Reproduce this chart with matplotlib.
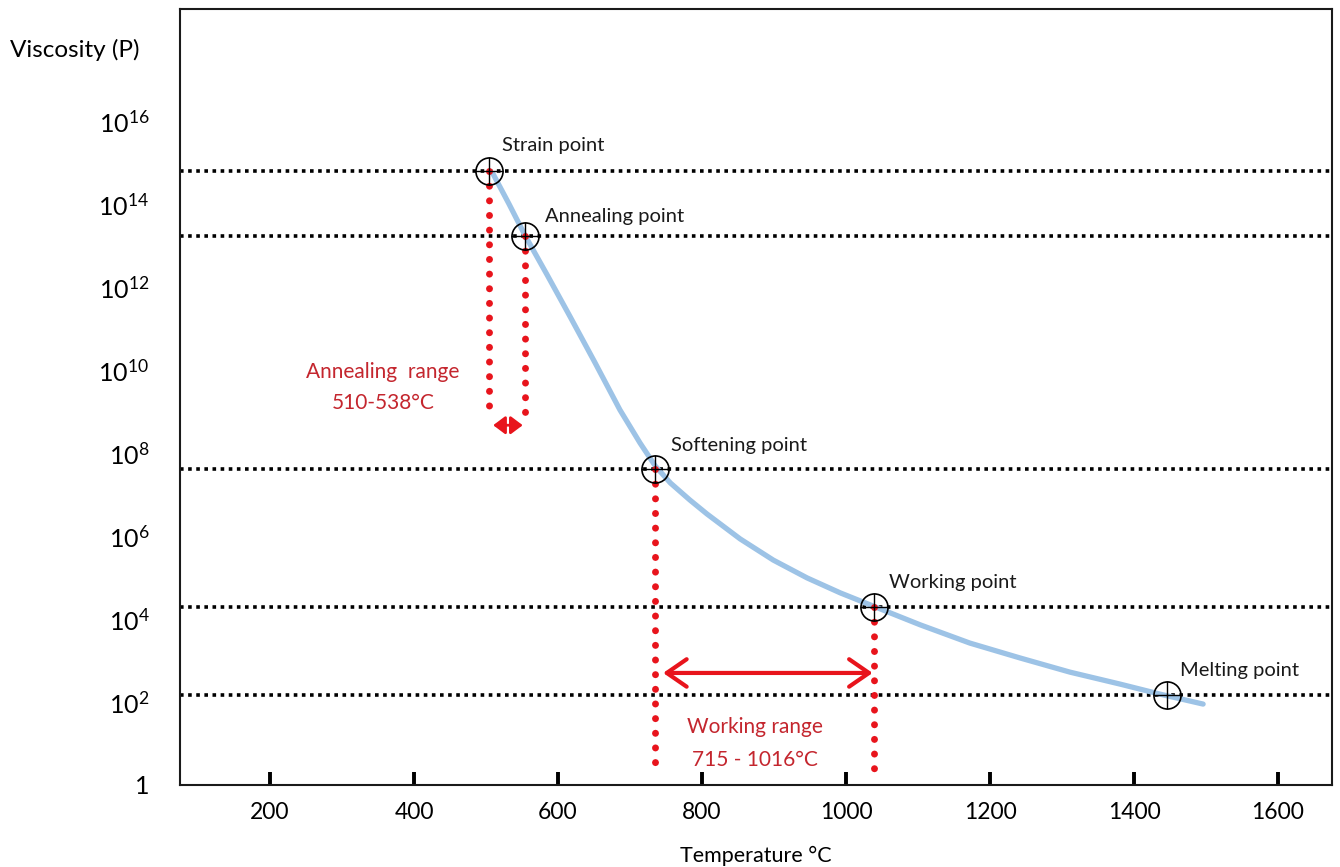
import numpy as np
import matplotlib.pyplot as plt

plt.rcParams["font.family"] = ["Lato", "DejaVu Sans"]
plt.rcParams["mathtext.fontset"] = "custom"
plt.rcParams["mathtext.rm"] = "Lato"
plt.rcParams["mathtext.it"] = "Lato:italic"

# viscosity curve: temperature in °C, log10 of viscosity in poise
curve_T = [510, 532, 554, 585, 617, 651, 686, 714, 735, 756, 783, 807,
           853, 899, 946, 992, 1038, 1103, 1172, 1242, 1311, 1381, 1436, 1496]
curve_logeta = [14.72, 14.00, 13.25, 12.29, 11.28, 10.19, 9.04, 8.24, 7.69, 7.28, 6.87, 6.53,
                5.93, 5.42, 4.99, 4.63, 4.31, 3.86, 3.42, 3.06, 2.72, 2.43, 2.19, 1.95]

# fixed points of the glass
point_names = ["Strain point", "Annealing point", "Softening point",
               "Working point", "Melting point"]
point_T = [504, 554, 735, 1039, 1446]
point_logeta = [14.8, 13.23, 7.61, 4.29, 2.17]

# temperature ranges
anneal_range = (510, 551)
anneal_label = ["Annealing  range", "510-538°C"]
work_range = (746, 1037)
work_label = ["Working range", "715 - 1016°C"]

x_ticks = [200, 400, 600, 800, 1000, 1200, 1400, 1600]
y_exps = [0, 2, 4, 6, 8, 10, 12, 14, 16]

red = "#e8141c"
red_text = "#c4262e"
blue = "#9dc3e6"

fig = plt.figure(figsize=(13.4, 8.67), dpi=100)
ax = fig.add_axes([180 / 1340, 1 - 785 / 867, 1152 / 1340, 776 / 867])
ax.set_yscale("log")

# dotted reference lines through each fixed point
for le in point_logeta:
    ax.axhline(10 ** le, color="black", lw=2.6, ls=(0, (1, 1.25)),
               dash_capstyle="butt", zorder=1)

ax.plot(curve_T, 10 ** np.array(curve_logeta), color=blue, lw=3.8,
        solid_capstyle="round", solid_joinstyle="round", zorder=2)

# red drop lines from the points
dot_style = dict(color=red, lw=5.0, ls=(0, (0.01, 2.1)),
                 dash_capstyle="round", zorder=3)
ax.plot([point_T[0]] * 2, [10 ** point_logeta[0], 10 ** 8.94], **dot_style)
ax.plot([point_T[1]] * 2, [10 ** point_logeta[1], 10 ** 8.94], **dot_style)
ax.plot([point_T[2]] * 2, [10 ** point_logeta[2], 10 ** 0.29], **dot_style)
ax.plot([point_T[3]] * 2, [10 ** point_logeta[3], 10 ** 0.24], **dot_style)

# markers: circle with crosshair
ax.plot(point_T, 10 ** np.array(point_logeta), ls="none", marker="o",
        ms=19.5, mfc="none", mec="black", mew=1.2, zorder=4)
ax.plot(point_T, 10 ** np.array(point_logeta), ls="none", marker="+",
        ms=19.5, mec="black", mew=1.0, zorder=4)

label_pos = [(522, 15.42), (582, 13.69), (757, 8.19), (1060, 4.89), (1464, 2.77)]
for name, (tx, ty) in zip(point_names, label_pos):
    ax.text(tx, 10 ** ty, name, fontsize=14.5, ha="left", va="center",
            color="#1a1a1a")

# range arrows
ax.annotate("", xy=(anneal_range[1], 10 ** 8.67), xytext=(anneal_range[0], 10 ** 8.67),
            arrowprops=dict(arrowstyle="<|-|>,head_length=0.6,head_width=0.45",
                            mutation_scale=12, color=red, lw=2,
                            shrinkA=0, shrinkB=0), zorder=3)
ax.annotate("", xy=(work_range[1], 10 ** 2.70), xytext=(work_range[0], 10 ** 2.70),
            arrowprops=dict(arrowstyle="<->,head_length=0.55,head_width=0.38",
                            mutation_scale=26, color=red, lw=3,
                            shrinkA=0, shrinkB=0), zorder=3)

ax.text(357, 10 ** 9.95, anneal_label[0], fontsize=15, color=red_text,
        ha="center", va="center")
ax.text(357, 10 ** 9.2, anneal_label[1], fontsize=15, color=red_text,
        ha="center", va="center")
ax.text(874, 10 ** 1.40, work_label[0], fontsize=15, color=red_text,
        ha="center", va="center")
ax.text(874, 10 ** 0.60, work_label[1], fontsize=15, color=red_text,
        ha="center", va="center")

ax.set_xlim(75, 1675)
ax.set_ylim(1, 10 ** 18.7)
ax.set_xticks(x_ticks)
ax.set_xticklabels([str(t) for t in x_ticks])
ax.set_yticks([10.0 ** e for e in y_exps])
ax.set_yticklabels(["1"] + [f"$10^{{{e}}}$" for e in y_exps[1:]])
ax.yaxis.set_minor_locator(plt.NullLocator())
ax.tick_params(axis="x", direction="in", length=9.5, width=2.8, pad=12,
               labelsize=16.5, color="black")
ax.tick_params(axis="y", length=0, pad=22, labelsize=18)
for s in ax.spines.values():
    s.set_linewidth(1.5)
    s.set_color("#1a1a1a")

ax.set_xlabel("Temperature °C", fontsize=15.5, labelpad=17)
fig.text(10 / 1340, 1 - 50 / 867, "Viscosity (P)", fontsize=17.5,
         ha="left", va="center")

fig.savefig("out.png", dpi=100)
